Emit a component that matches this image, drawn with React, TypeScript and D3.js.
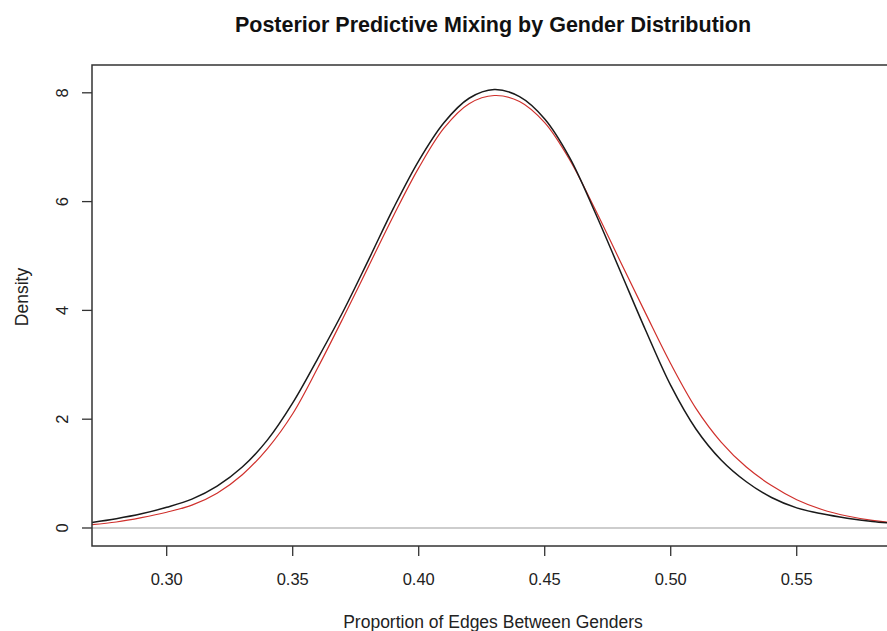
import React from 'react'
import * as d3 from 'd3'

const width = 887
const height = 631

// density curves
const xs = [0.27, 0.28, 0.29, 0.30, 0.31, 0.32, 0.33, 0.34, 0.35, 0.36, 0.37, 0.38, 0.39, 0.40, 0.41, 0.42, 0.43, 0.44, 0.45, 0.46, 0.47, 0.48, 0.49, 0.50, 0.51, 0.52, 0.53, 0.54, 0.55, 0.56, 0.57, 0.58, 0.59]
const observed = [0.10, 0.17, 0.26, 0.38, 0.53, 0.77, 1.12, 1.62, 2.30, 3.12, 3.98, 4.92, 5.88, 6.75, 7.45, 7.90, 8.06, 7.93, 7.52, 6.80, 5.80, 4.72, 3.64, 2.62, 1.82, 1.25, 0.85, 0.56, 0.37, 0.26, 0.18, 0.12, 0.08]
const predicted = [0.06, 0.11, 0.19, 0.29, 0.42, 0.64, 0.98, 1.46, 2.10, 2.95, 3.86, 4.80, 5.74, 6.62, 7.35, 7.80, 7.95, 7.84, 7.45, 6.76, 5.86, 4.90, 3.95, 3.02, 2.20, 1.58, 1.12, 0.78, 0.52, 0.34, 0.22, 0.14, 0.09]

const xTicks = [0.30, 0.35, 0.40, 0.45, 0.50, 0.55]
const yTicks = [0, 2, 4, 6, 8]

const left = 92
const right = 894
const top = 65
const bottom = 546

const x = d3.scaleLinear().domain([0.27036, 0.5886]).range([left, right])
const y = d3.scaleLinear().domain([-0.331, 8.511]).range([bottom, top])

const line = d3.line<number>()
    .x((d, i) => x(xs[i]))
    .y(d => y(d))
    .curve(d3.curveCatmullRom.alpha(0.5))

const font = 'Liberation Sans, Arial, Helvetica, sans-serif'

function App() {
    return (
        <div>
            <style>{`body{margin:0}`}</style>
            <svg width={width} height={height} style={{ display: 'block', background: '#fff' }}>
                <defs>
                    <clipPath id="plotClip">
                        <rect x={left} y={top} width={right - left} height={bottom - top} />
                    </clipPath>
                </defs>
                <text x={(left + right) / 2} y={32} textAnchor="middle" fontFamily={font} fontWeight="bold" fontSize={21.5} fill="#111">
                    Posterior Predictive Mixing by Gender Distribution
                </text>

                <g clipPath="url(#plotClip)">
                    <line x1={left} x2={right} y1={y(0)} y2={y(0)} stroke="#bdbdbd" strokeWidth={1.3} />
                    <path d={line(predicted) || ''} fill="none" stroke="#d0302c" strokeWidth={1.2} />
                    <path d={line(observed) || ''} fill="none" stroke="#1a1a1a" strokeWidth={1.5} />
                </g>

                <rect x={left} y={top} width={right - left} height={bottom - top} fill="none" stroke="#333" strokeWidth={1.5} />

                {xTicks.map(t => (
                    <g key={'x' + t}>
                        <line x1={x(t)} x2={x(t)} y1={bottom} y2={bottom + 10} stroke="#333" strokeWidth={1.3} />
                        <text x={x(t)} y={585} textAnchor="middle" fontFamily={font} fontSize={16.5} fill="#222">
                            {t.toFixed(2)}
                        </text>
                    </g>
                ))}
                {yTicks.map(t => (
                    <g key={'y' + t}>
                        <line x1={left - 10} x2={left} y1={y(t)} y2={y(t)} stroke="#333" strokeWidth={1.3} />
                        <text transform={`translate(68,${y(t)}) rotate(-90)`} textAnchor="middle" fontFamily={font} fontSize={16.5} fill="#222">
                            {t}
                        </text>
                    </g>
                ))}

                <text x={(left + right) / 2} y={628} textAnchor="middle" fontFamily={font} fontSize={17.5} fill="#222">
                    Proportion of Edges Between Genders
                </text>
                <text transform={`translate(28,297) rotate(-90)`} textAnchor="middle" fontFamily={font} fontSize={17.5} fill="#222">
                    Density
                </text>
            </svg>
        </div>
    )
}

export default App
